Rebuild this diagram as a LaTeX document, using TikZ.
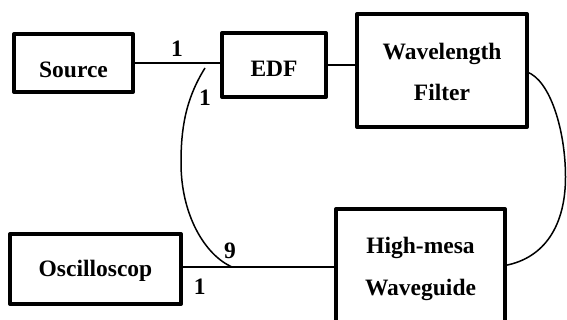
\documentclass[tikz,border=0pt]{standalone}
\usepackage{fontspec}
\setmainfont{Liberation Serif}
\begin{document}
\begin{tikzpicture}[x=1pt,y=-1pt,
  box/.style={draw, line width=4pt, line join=round, inner sep=0pt, outer sep=0pt},
  lbl/.style={font=\fontsize{23.5}{28}\selectfont\bfseries, anchor=base, inner sep=0pt},
  wire/.style={line width=2pt},
  fibre/.style={line width=1.5pt}]
\useasboundingbox (0,0) rectangle (567,320);
\clip (0,0) rectangle (567,320);
% boxes
\node[box, minimum width=119pt, minimum height=58pt] (src) at (73.5,63) {};
\node[box, minimum width=104pt, minimum height=64pt] (edf) at (274,65) {};
\node[box, minimum width=170pt, minimum height=113pt] (wf) at (442,70.5) {};
\node[box, minimum width=171pt, minimum height=70pt] (osc) at (95.5,269) {};
\node[box, minimum width=169pt, minimum height=113pt] (hm) at (420.5,265.5) {};
% texts
\node[lbl] (srct) at (73.5,77.3) {Source};
\node[lbl] (edft) at (274,76.7) {EDF};
\node[lbl] (wft1) at (442,60) {Wavelength};
\node[lbl] (wft2) at (442,101) {Filter};
\node[lbl] (hmt1) at (420.5,254) {High-mesa};
\node[lbl] (hmt2) at (420.5,295) {Waveguide};
\node[lbl] (osct) at (95.5,276.7) {Oscilloscop};
% port labels
\node[lbl] (n1) at (177,56.7) {1};
\node[lbl] (n2) at (205,106) {1};
\node[lbl] (n3) at (230,258.3) {9};
\node[lbl] (n4) at (199.7,294) {1};
% connectors
\draw[wire] (src.east) -- (src.east -| edf.west);
\draw[wire] (edf.east) -- (edf.east -| wf.west);
\path ([yshift=2pt]osc.east) coordinate (oe);
\draw[wire] (oe) -- (oe -| hm.west);
\coordinate (la) at (205,68);
\coordinate (lm) at (181,163);
\coordinate (lb) at (232,267);
\draw[fibre] (la) .. controls (185,100) and (181,130) .. (lm)
  .. controls (181,215) and (205,255) .. (lb);
\coordinate (rm) at (565.5,177);
\draw[fibre] ([yshift=-1.5pt]wf.east) .. controls (550,80) and (565.5,130) .. (rm)
  .. controls (565.5,225) and (545,258) .. (hm.east);
\end{tikzpicture}
\end{document}
